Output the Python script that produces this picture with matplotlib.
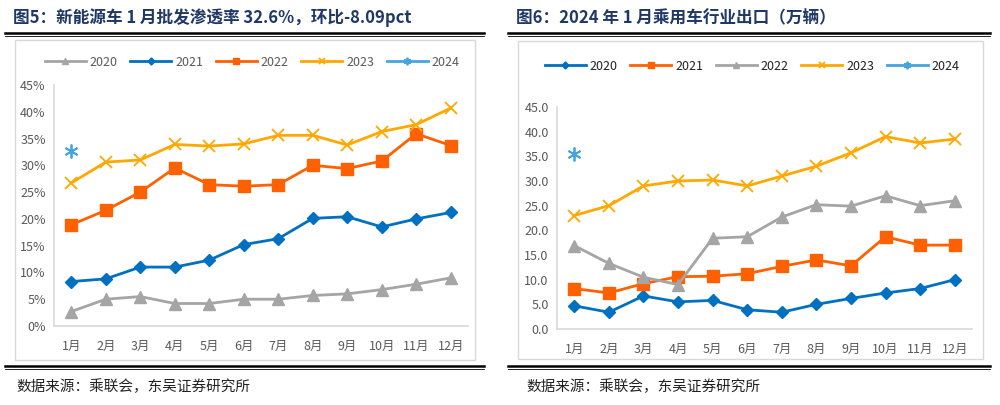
import matplotlib
matplotlib.use('Agg')
import matplotlib.pyplot as plt
from matplotlib.lines import Line2D
from matplotlib.patches import Rectangle

plt.rcParams['font.family'] = ['Noto Sans CJK SC', 'DejaVu Sans']

months = ['1月', '2月', '3月', '4月', '5月', '6月', '7月', '8月', '9月', '10月', '11月', '12月']

# 新能源车批发渗透率 (%)
nev_2020 = [2.7, 5.0, 5.5, 4.2, 4.2, 5.0, 5.0, 5.7, 6.0, 6.8, 7.8, 9.0]
nev_2021 = [8.3, 8.8, 11.0, 11.0, 12.3, 15.2, 16.3, 20.1, 20.4, 18.5, 20.0, 21.2]
nev_2022 = [18.9, 21.6, 25.0, 29.5, 26.4, 26.1, 26.4, 30.0, 29.4, 30.8, 35.9, 33.7]
nev_2023 = [26.7, 30.6, 31.0, 33.9, 33.6, 34.0, 35.6, 35.6, 33.8, 36.3, 37.6, 40.7]
nev_2024 = [32.6]

# 乘用车出口 (万辆)
exp_2020 = [4.7, 3.4, 6.7, 5.5, 5.8, 3.9, 3.4, 5.0, 6.2, 7.3, 8.2, 10.0]
exp_2021 = [8.2, 7.3, 9.2, 10.6, 10.7, 11.2, 12.7, 14.0, 12.8, 18.7, 17.0, 17.0]
exp_2022 = [16.9, 13.3, 10.5, 9.0, 18.4, 18.7, 22.7, 25.2, 24.9, 27.0, 25.0, 26.0]
exp_2023 = [23.0, 25.0, 29.0, 30.0, 30.2, 29.0, 31.0, 33.0, 35.7, 39.0, 37.7, 38.5]
exp_2024 = [35.5]

GREY = '#A5A5A5'
BLUE = '#0070C0'
RED = '#FF6000'
ORANGE = '#FFA800'
LBLUE = '#45A5DD'
STAR = (6, 2, 0)

W, H = 1000, 405
fig = plt.figure(figsize=(W / 100, H / 100), dpi=100)


def frac(x0, y0, x1, y1):
    # pixel box (top-left origin) -> figure fraction
    return [x0 / W, 1 - y1 / H, (x1 - x0) / W, (y1 - y0) / H]


def decorate(x_left, x_right, title, foot_x):
    fig.text(x_left + 8 / W, 1 - 18 / H, title, fontsize=12, fontweight='bold',
             color='#1F3864', va='center', ha='left')
    fig.add_artist(Line2D([x_left, x_right], [1 - 33 / H] * 2, color='black', lw=1.8))
    fig.add_artist(Line2D([x_left, x_right], [1 - 35.5 / H] * 2, color='black', lw=0.6))
    fig.add_artist(Line2D([x_left, x_right], [1 - 366 / H] * 2, color='black', lw=1.8))
    fig.add_artist(Line2D([x_left, x_right], [1 - 368.5 / H] * 2, color='black', lw=0.6))
    fig.text(foot_x, 1 - 387 / H, '数据来源：乘联会，东吴证券研究所', fontsize=10.5,
             color='#222222', va='center', ha='left')


def style_axes(ax, ylim, ticks, labels):
    x = range(len(months))
    ax.set_xlim(-0.5, 11.5)
    ax.set_ylim(*ylim)
    ax.set_xticks(list(x))
    ax.set_xticklabels(months)
    ax.set_yticks(ticks)
    ax.set_yticklabels(labels)
    for s in ['top', 'right']:
        ax.spines[s].set_visible(False)
    for s in ['left', 'bottom']:
        ax.spines[s].set_color('#D9D9D9')
        ax.spines[s].set_linewidth(1.2)
    ax.tick_params(length=0, labelsize=9, colors='#595959', pad=6)
    ax.tick_params(axis='x', pad=10)
    ax.set_facecolor('none')


def add_legend(ax, cx, cy, color):
    ax.legend(loc='center', bbox_to_anchor=(cx / W, 1 - cy / H), bbox_transform=fig.transFigure,
              ncol=5, frameon=False, fontsize=9, handlelength=3.3, columnspacing=1.0,
              handletextpad=0.3, markerscale=0.55, labelcolor=color)


# ---- left panel ----
decorate(5 / W, 484 / W, '图5：新能源车 1 月批发渗透率 32.6%，环比-8.09pct', 16 / W)
fig.add_artist(Rectangle((15 / W, 1 - 360 / H), 460 / W, 320 / H, transform=fig.transFigure,
                         fill=False, ec='#D9D9D9', lw=1))
ax1 = fig.add_axes(frac(54, 85, 468, 326))
x = list(range(12))
ax1.plot(x, nev_2020, color=GREY, lw=2, marker='^', ms=8, label='2020')
ax1.plot(x, nev_2021, color=BLUE, lw=2, marker='D', ms=6.5, label='2021')
ax1.plot(x, nev_2022, color=RED, lw=2, marker='s', ms=8.5, label='2022')
ax1.plot(x, nev_2023, color=ORANGE, lw=2, marker='x', ms=9, mew=1.3, label='2023')
ax1.plot(x[:1], nev_2024, color=LBLUE, lw=2, marker=STAR, ms=10, mew=1.3, label='2024')
style_axes(ax1, (0, 45), list(range(0, 46, 5)), [f'{v}%' for v in range(0, 46, 5)])
add_legend(ax1, 252, 62, '#595959')

# ---- right panel ----
decorate(508 / W, 990 / W, '图6：2024 年 1 月乘用车行业出口（万辆）', 526 / W)
fig.add_artist(Rectangle((518 / W, 1 - 359 / H), 465 / W, 318 / H, transform=fig.transFigure,
                         fill=False, ec='#D9D9D9', lw=1))
ax2 = fig.add_axes(frac(557, 107, 972, 329))
ax2.plot(x, exp_2020, color=BLUE, lw=2, marker='D', ms=6.5, label='2020')
ax2.plot(x, exp_2021, color=RED, lw=2, marker='s', ms=8.5, label='2021')
ax2.plot(x, exp_2022, color=GREY, lw=2, marker='^', ms=8, label='2022')
ax2.plot(x, exp_2023, color=ORANGE, lw=2, marker='x', ms=9, mew=1.3, label='2023')
ax2.plot(x[:1], exp_2024, color=LBLUE, lw=2, marker=STAR, ms=10, mew=1.3, label='2024')
style_axes(ax2, (0, 45), list(range(0, 46, 5)), [f'{v:.1f}' for v in range(0, 46, 5)])
add_legend(ax2, 752, 66, '#222222')

fig.savefig('out.png', dpi=100)
